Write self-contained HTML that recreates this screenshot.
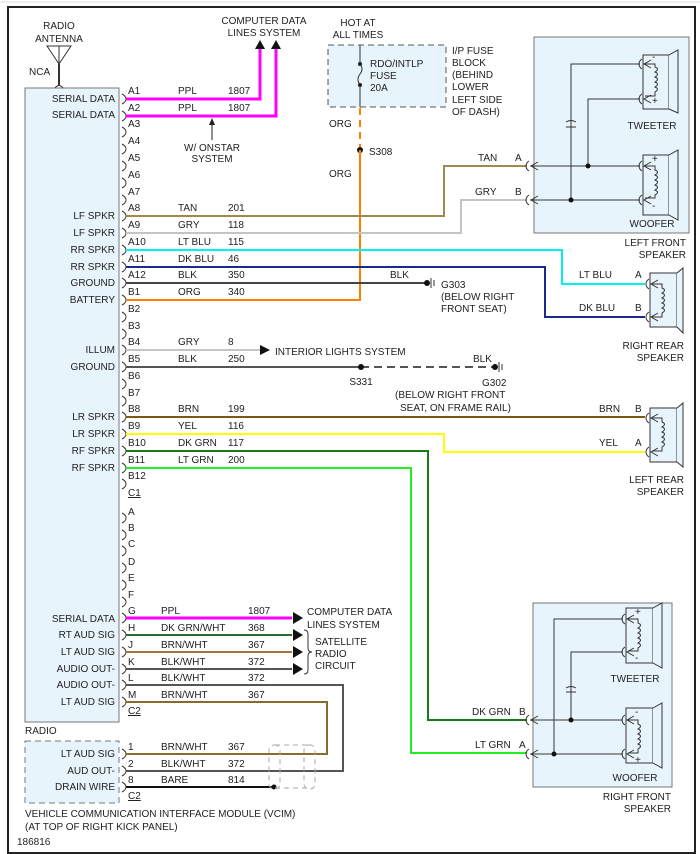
<!DOCTYPE html>
<html><head><meta charset="utf-8"><style>
html,body{margin:0;padding:0;background:#fff;}
svg{display:block;}
text{font-family:"Liberation Sans",sans-serif;font-size:10px;fill:#222;}
.r{text-anchor:end}.m{text-anchor:middle}
</style></head><body>
<svg width="700" height="854" viewBox="0 0 700 854" xmlns="http://www.w3.org/2000/svg">
<defs>
<path id="pj" d="M122,-5 q4,2 4,5 q0,3 -4,5" fill="none" stroke="#333" stroke-width="1"/>
<path id="sc" d="M-1,-5 q-3,2 -3,5 q0,3 3,5 M8,-4 L1,0 L8,4" fill="none" stroke="#333" stroke-width="1"/>
</defs>
<rect x="0" y="0" width="700" height="854" fill="#fff"/>
<line x1="0" y1="2" x2="700" y2="2" stroke="#ddd"/>
<rect x="8" y="7" width="687" height="846" fill="none" stroke="#222" stroke-width="2"/>

<!-- radio box -->
<rect x="25" y="88" width="94" height="634" fill="#e8f4fb" stroke="#777" stroke-width="1"/>
<rect x="25" y="741" width="94" height="62" fill="#e8f4fb" stroke="#777" stroke-width="1" stroke-dasharray="6,4"/>

<!-- antenna -->
<text x="59" y="29" class="m">RADIO</text><text x="59" y="42" class="m">ANTENNA</text>
<path d="M47,46 L71,46 L59,64 Z M59,46 L59,64" fill="none" stroke="#333"/>
<line x1="59" y1="64" x2="59" y2="85" stroke="#333" stroke-width="2"/>
<path d="M55,88 q4,-5 8,0" fill="none" stroke="#333"/>
<text x="29" y="75">NCA</text>

<!-- pin glyphs -->
<g>
<use href="#pj" y="99"/><use href="#pj" y="116"/><use href="#pj" y="132"/><use href="#pj" y="149"/><use href="#pj" y="166"/><use href="#pj" y="183"/><use href="#pj" y="200"/><use href="#pj" y="216"/><use href="#pj" y="233"/><use href="#pj" y="250"/><use href="#pj" y="267"/><use href="#pj" y="283"/><use href="#pj" y="300"/><use href="#pj" y="317"/><use href="#pj" y="334"/><use href="#pj" y="350"/><use href="#pj" y="367"/><use href="#pj" y="384"/><use href="#pj" y="401"/><use href="#pj" y="417"/><use href="#pj" y="434"/><use href="#pj" y="451"/><use href="#pj" y="468"/><use href="#pj" y="484"/>
<use href="#pj" y="518"/><use href="#pj" y="535"/><use href="#pj" y="551"/><use href="#pj" y="568"/><use href="#pj" y="585"/><use href="#pj" y="602"/><use href="#pj" y="618"/><use href="#pj" y="635"/><use href="#pj" y="652"/><use href="#pj" y="669"/><use href="#pj" y="685"/><use href="#pj" y="702"/>
<use href="#pj" y="754"/><use href="#pj" y="771"/><use href="#pj" y="787"/>
</g>

<!-- pin labels -->
<g>
<text x="128" y="94">A1</text><text x="128" y="111">A2</text><text x="128" y="127">A3</text><text x="128" y="144">A4</text><text x="128" y="161">A5</text><text x="128" y="178">A6</text><text x="128" y="195">A7</text><text x="128" y="211">A8</text><text x="128" y="228">A9</text><text x="128" y="245">A10</text><text x="128" y="262">A11</text><text x="128" y="278">A12</text><text x="128" y="295">B1</text><text x="128" y="312">B2</text><text x="128" y="329">B3</text><text x="128" y="345">B4</text><text x="128" y="362">B5</text><text x="128" y="379">B6</text><text x="128" y="396">B7</text><text x="128" y="412">B8</text><text x="128" y="429">B9</text><text x="128" y="446">B10</text><text x="128" y="463">B11</text><text x="128" y="479">B12</text>
<text x="128" y="496" text-decoration="underline">C1</text>
<text x="128" y="515">A</text><text x="128" y="531">B</text><text x="128" y="547">C</text><text x="128" y="565">D</text><text x="128" y="581">E</text><text x="128" y="598">F</text><text x="128" y="614">G</text><text x="128" y="631">H</text><text x="128" y="648">J</text><text x="128" y="665">K</text><text x="128" y="681">L</text><text x="128" y="698">M</text>
<text x="128" y="714" text-decoration="underline">C2</text>
<text x="128" y="750">1</text><text x="128" y="767">2</text><text x="128" y="783">8</text>
<text x="128" y="799" text-decoration="underline">C2</text>
</g>

<!-- left labels -->
<g class="r">
<text x="115" y="102" class="r">SERIAL DATA</text><text x="115" y="118" class="r">SERIAL DATA</text>
<text x="115" y="219" class="r">LF SPKR</text><text x="115" y="236" class="r">LF SPKR</text>
<text x="115" y="253" class="r">RR SPKR</text><text x="115" y="270" class="r">RR SPKR</text>
<text x="115" y="286" class="r">GROUND</text><text x="115" y="303" class="r">BATTERY</text>
<text x="115" y="353" class="r">ILLUM</text><text x="115" y="370" class="r">GROUND</text>
<text x="115" y="420" class="r">LR SPKR</text><text x="115" y="437" class="r">LR SPKR</text>
<text x="115" y="454" class="r">RF SPKR</text><text x="115" y="471" class="r">RF SPKR</text>
<text x="115" y="622" class="r">SERIAL DATA</text><text x="115" y="638" class="r">RT AUD SIG</text>
<text x="115" y="655" class="r">LT AUD SIG</text><text x="115" y="672" class="r">AUDIO OUT-</text>
<text x="115" y="688" class="r">AUDIO OUT-</text><text x="115" y="705" class="r">LT AUD SIG</text>
<text x="115" y="757" class="r">LT AUD SIG</text><text x="115" y="774" class="r">AUD OUT-</text>
<text x="115" y="790" class="r">DRAIN WIRE</text>
</g>
<text x="25" y="734">RADIO</text>
<text x="25" y="817">VEHICLE COMMUNICATION INTERFACE MODULE (VCIM)</text>
<text x="25" y="830">(AT TOP OF RIGHT KICK PANEL)</text>
<text x="17" y="845">186816</text>

<!-- wire labels top -->
<g>
<text x="178" y="94">PPL</text><text x="228" y="94">1807</text>
<text x="178" y="111">PPL</text><text x="228" y="111">1807</text>
<text x="178" y="211">TAN</text><text x="228" y="211">201</text>
<text x="178" y="228">GRY</text><text x="228" y="228">118</text>
<text x="178" y="245">LT BLU</text><text x="228" y="245">115</text>
<text x="178" y="262">DK BLU</text><text x="228" y="262">46</text>
<text x="178" y="278">BLK</text><text x="228" y="278">350</text>
<text x="178" y="295">ORG</text><text x="228" y="295">340</text>
<text x="178" y="345">GRY</text><text x="228" y="345">8</text>
<text x="178" y="362">BLK</text><text x="228" y="362">250</text>
<text x="178" y="412">BRN</text><text x="228" y="412">199</text>
<text x="178" y="429">YEL</text><text x="228" y="429">116</text>
<text x="178" y="446">DK GRN</text><text x="228" y="446">117</text>
<text x="178" y="463">LT GRN</text><text x="228" y="463">200</text>
<text x="161" y="614">PPL</text><text x="248" y="614">1807</text>
<text x="161" y="631">DK GRN/WHT</text><text x="248" y="631">368</text>
<text x="161" y="648">BRN/WHT</text><text x="248" y="648">367</text>
<text x="161" y="665">BLK/WHT</text><text x="248" y="665">372</text>
<text x="161" y="681">BLK/WHT</text><text x="248" y="681">372</text>
<text x="161" y="698">BRN/WHT</text><text x="248" y="698">367</text>
<text x="161" y="750">BRN/WHT</text><text x="228" y="750">367</text>
<text x="161" y="767">BLK/WHT</text><text x="228" y="767">372</text>
<text x="161" y="783">BARE</text><text x="228" y="783">814</text>
</g>

<!-- computer data top -->
<text x="264" y="24" class="m">COMPUTER DATA</text><text x="264" y="36" class="m">LINES SYSTEM</text>
<polyline points="126,99 260,99 260,48" fill="none" stroke="#f0f" stroke-width="3"/>
<polyline points="126,116 276,116 276,48" fill="none" stroke="#f0f" stroke-width="3"/>
<path d="M255,49 L260,40 L265,49 Z M271,49 L276,40 L281,49 Z" fill="#111"/>
<line x1="212" y1="140" x2="212" y2="124" stroke="#222"/>
<path d="M209,125 L212,118 L215,125 Z" fill="#222"/>
<text x="212" y="151" class="m">W/ ONSTAR</text><text x="212" y="162" class="m">SYSTEM</text>

<!-- fuse -->
<text x="358" y="26" class="m">HOT AT</text><text x="358" y="38" class="m">ALL TIMES</text>
<rect x="328" y="45" width="118" height="62" fill="#e8f4fb" stroke="#555" stroke-dasharray="6,4"/>
<line x1="360" y1="45" x2="360" y2="64" stroke="#333"/>
<line x1="360" y1="85" x2="360" y2="107" stroke="#333"/>
<path d="M360,64 q4,5 0,10 q-4,5 0,11" fill="none" stroke="#333"/>
<circle cx="360" cy="64" r="2" fill="#222"/><circle cx="360" cy="85" r="2" fill="#222"/>
<text x="370" y="67">RDO/INTLP</text><text x="370" y="79">FUSE</text><text x="370" y="91">20A</text>
<text x="452" y="54">I/P FUSE</text><text x="452" y="66">BLOCK</text><text x="452" y="78">(BEHIND</text><text x="452" y="90">LOWER</text><text x="452" y="103">LEFT SIDE</text><text x="452" y="115">OF DASH)</text>
<line x1="360" y1="108" x2="360" y2="150" stroke="#ff8000" stroke-width="2" stroke-dasharray="7,5"/>
<text x="329" y="127">ORG</text><text x="329" y="177">ORG</text>
<circle cx="360" cy="150" r="3" fill="#111"/><text x="369" y="155">S308</text>
<polyline points="126,300 360,300 360,150" fill="none" stroke="#ff8000" stroke-width="2"/>

<!-- A8 A9 -->
<polyline points="126,216 444,216 444,166 527,166" fill="none" stroke="#a08850" stroke-width="2"/>
<polyline points="126,233 461,233 461,200 527,200" fill="none" stroke="#c4c4c4" stroke-width="2"/>
<text x="478" y="161">TAN</text><text x="515" y="161">A</text>
<text x="475" y="195">GRY</text><text x="515" y="195">B</text>

<!-- left front speaker -->
<rect x="534" y="37" width="155" height="196" fill="#e8f4fb" stroke="#777"/>
<g fill="none" stroke="#333" stroke-width="1">
<polyline points="530,166 640,166"/><polyline points="530,200 640,200"/>
<polyline points="588,166 588,99 640,99"/><polyline points="571,200 571,64 640,64"/>
<line x1="566" y1="127" x2="576" y2="127"/><path d="M566,122 q5,-3 10,0"/>
<rect x="643" y="55" width="26" height="54" fill="#e8f4fb"/><path d="M669,55 L678,50 L678,113 L669,109" fill="#e8f4fb"/>
<rect x="643" y="155" width="26" height="60" fill="#e8f4fb"/><path d="M669,155 L678,150 L678,220 L669,215" fill="#e8f4fb"/>
<path d="M645,64 h10 v3 q5,2 0,5 q5,2 0,5 q5,2 0,5 q5,2 0,5 q5,2 0,5 v4 h-10"/>
<path d="M645,166 h10 v4 q5,2 0,5 q5,2 0,5 q5,2 0,5 q5,2 0,5 q5,2 0,5 v3 h-10"/>
</g>
<circle cx="588" cy="166" r="2.5" fill="#111"/><circle cx="571" cy="200" r="2.5" fill="#111"/>
<use href="#sc" x="530" y="166"/><use href="#sc" x="530" y="200"/>
<use href="#sc" x="643" y="64"/><use href="#sc" x="643" y="99"/><use href="#sc" x="643" y="166"/><use href="#sc" x="643" y="200"/>
<text x="652" y="60" font-size="8">-</text><text x="652" y="104" font-size="9">+</text>
<text x="652" y="162" font-size="9">+</text><text x="652" y="209" font-size="8">-</text>
<text x="652" y="129" class="m">TWEETER</text><text x="652" y="227" class="m">WOOFER</text>
<text x="686" y="246" class="r">LEFT FRONT</text><text x="686" y="258" class="r">SPEAKER</text>

<!-- A10 A11 A12 -->
<polyline points="126,250 562,250 562,284 645,284" fill="none" stroke="#00f0f0" stroke-width="2"/>
<polyline points="126,267 545,267 545,317 645,317" fill="none" stroke="#1a2a88" stroke-width="2"/>
<polyline points="126,283 426,283" fill="none" stroke="#444" stroke-width="2"/>
<circle cx="427" cy="283" r="3" fill="#111"/>
<line x1="431" y1="278" x2="431" y2="288" stroke="#333"/><line x1="434" y1="280" x2="434" y2="286" stroke="#333"/>
<text x="390" y="278">BLK</text>
<text x="441" y="288">G303</text><text x="441" y="300">(BELOW RIGHT</text><text x="441" y="312">FRONT SEAT)</text>
<text x="579" y="278">LT BLU</text><text x="635" y="278">A</text>
<text x="579" y="311">DK BLU</text><text x="635" y="311">B</text>
<!-- right rear speaker -->
<g fill="#e8f4fb" stroke="#333">
<rect x="650" y="273" width="27" height="54"/><path d="M677,273 L683,268 L683,333 L677,327"/>
<path d="M652,284 h10 v4 q5,2 0,5 q5,2 0,5 q5,2 0,5 q5,2 0,5 q5,2 0,5 v4 h-10" fill="none"/>
</g>
<use href="#sc" x="650" y="284"/><use href="#sc" x="650" y="317"/>
<text x="684" y="349" class="r">RIGHT REAR</text><text x="684" y="361" class="r">SPEAKER</text>

<!-- B4 B5 -->
<line x1="126" y1="350" x2="262" y2="350" stroke="#c4c4c4" stroke-width="2"/>
<path d="M260,345 L270,350 L260,355 Z" fill="#111"/>
<text x="275" y="355">INTERIOR LIGHTS SYSTEM</text>
<line x1="126" y1="367" x2="361" y2="367" stroke="#555" stroke-width="2"/>
<line x1="361" y1="367" x2="494" y2="367" stroke="#555" stroke-width="2" stroke-dasharray="8,5"/>
<circle cx="361" cy="367" r="3" fill="#111"/><circle cx="495" cy="367" r="3" fill="#111"/>
<line x1="499" y1="362" x2="499" y2="372" stroke="#333"/><line x1="502" y1="364" x2="502" y2="370" stroke="#333"/>
<text x="361" y="385" class="m">S331</text><text x="473" y="362">BLK</text>
<text x="482" y="386">G302</text>
<text x="395" y="398">(BELOW RIGHT FRONT</text><text x="400" y="411">SEAT, ON FRAME RAIL)</text>

<!-- B8 B9 -->
<line x1="126" y1="417" x2="645" y2="417" stroke="#7a5a10" stroke-width="2"/>
<polyline points="126,434 444,434 444,452 645,452" fill="none" stroke="#ffff00" stroke-width="2"/>
<text x="599" y="412">BRN</text><text x="635" y="412">B</text>
<text x="599" y="446">YEL</text><text x="635" y="446">A</text>
<g fill="#e8f4fb" stroke="#333">
<rect x="650" y="408" width="27" height="54"/><path d="M677,408 L683,403 L683,467 L677,462"/>
<path d="M652,418 h10 v4 q5,2 0,5 q5,2 0,5 q5,2 0,5 q5,2 0,5 q5,2 0,5 v4 h-10" fill="none"/>
</g>
<use href="#sc" x="650" y="418"/><use href="#sc" x="650" y="452"/>
<text x="684" y="483" class="r">LEFT REAR</text><text x="684" y="495" class="r">SPEAKER</text>

<!-- B10 B11 -->
<polyline points="126,451 428,451 428,720 527,720" fill="none" stroke="#1a7a1a" stroke-width="2"/>
<polyline points="126,468 411,468 411,753 527,753" fill="none" stroke="#22ee22" stroke-width="2"/>
<text x="472" y="715">DK GRN</text><text x="519" y="715">B</text>
<text x="475" y="748">LT GRN</text><text x="519" y="748">A</text>

<!-- right front speaker -->
<rect x="533" y="603" width="139" height="184" fill="#e8f4fb" stroke="#777"/>
<g fill="none" stroke="#333">
<polyline points="530,720 623,720"/><polyline points="530,754 623,754"/>
<polyline points="571,720 571,652 623,652"/><polyline points="554,754 554,619 623,619"/>
<line x1="566" y1="692" x2="576" y2="692"/><path d="M566,688 q5,-3 10,0"/>
<rect x="626" y="608" width="27" height="55" fill="#e8f4fb"/><path d="M653,608 L662,603 L662,668 L653,663" fill="#e8f4fb"/>
<rect x="626" y="708" width="27" height="55" fill="#e8f4fb"/><path d="M653,708 L662,703 L662,768 L653,763" fill="#e8f4fb"/>
<path d="M628,619 h10 v4 q5,2 0,5 q5,2 0,5 q5,2 0,5 q5,2 0,5 q5,2 0,5 v3 h-10"/>
<path d="M628,720 h10 v4 q5,2 0,5 q5,2 0,5 q5,2 0,5 q5,2 0,5 q5,2 0,5 v4 h-10"/>
</g>
<circle cx="571" cy="720" r="2.5" fill="#111"/><circle cx="554" cy="754" r="2.5" fill="#111"/>
<use href="#sc" x="530" y="720"/><use href="#sc" x="530" y="754"/>
<use href="#sc" x="626" y="619"/><use href="#sc" x="626" y="652"/><use href="#sc" x="626" y="720"/><use href="#sc" x="626" y="754"/>
<text x="635" y="615" font-size="9">+</text><text x="635" y="661" font-size="8">-</text>
<text x="635" y="715" font-size="8">-</text><text x="635" y="763" font-size="9">+</text>
<text x="635" y="682" class="m">TWEETER</text><text x="635" y="781" class="m">WOOFER</text>
<text x="671" y="800" class="r">RIGHT FRONT</text><text x="671" y="812" class="r">SPEAKER</text>

<!-- bottom wires -->
<line x1="126" y1="618" x2="292" y2="618" stroke="#f0f" stroke-width="3"/>
<line x1="126" y1="635" x2="292" y2="635" stroke="#2a6a2a" stroke-width="2"/>
<line x1="126" y1="652" x2="292" y2="652" stroke="#9a7a3a" stroke-width="2"/>
<line x1="126" y1="669" x2="292" y2="669" stroke="#555" stroke-width="2"/>
<path d="M293,612 L303,618 L293,624 Z M293,629 L303,635 L293,641 Z M293,646 L303,652 L293,658 Z M293,663 L303,669 L293,675 Z" fill="#111"/>
<text x="307" y="615">COMPUTER DATA</text><text x="307" y="628">LINES SYSTEM</text>
<path d="M304,630 q4,0 4,4 v14 q0,4 4,4 q-4,0 -4,4 v14 q0,4 -4,4" fill="none" stroke="#333"/>
<text x="315" y="645">SATELLITE</text><text x="315" y="657">RADIO</text><text x="315" y="669">CIRCUIT</text>
<polyline points="126,685 343,685 343,771 126,771" fill="none" stroke="#555" stroke-width="2"/>
<polyline points="126,702 327,702 327,754 126,754" fill="none" stroke="#8a6a2a" stroke-width="2"/>
<line x1="126" y1="787" x2="274" y2="787" stroke="#111" stroke-width="2"/>
<circle cx="274" cy="787" r="2.5" fill="#111"/>
<g fill="none" stroke="#aaa" stroke-dasharray="5,4">
<rect x="269" y="745" width="11" height="44" rx="5"/><rect x="304" y="745" width="11" height="44" rx="5"/>
<line x1="275" y1="745" x2="309" y2="745"/><line x1="275" y1="788" x2="309" y2="788"/>
</g>
</svg>
</body></html>
